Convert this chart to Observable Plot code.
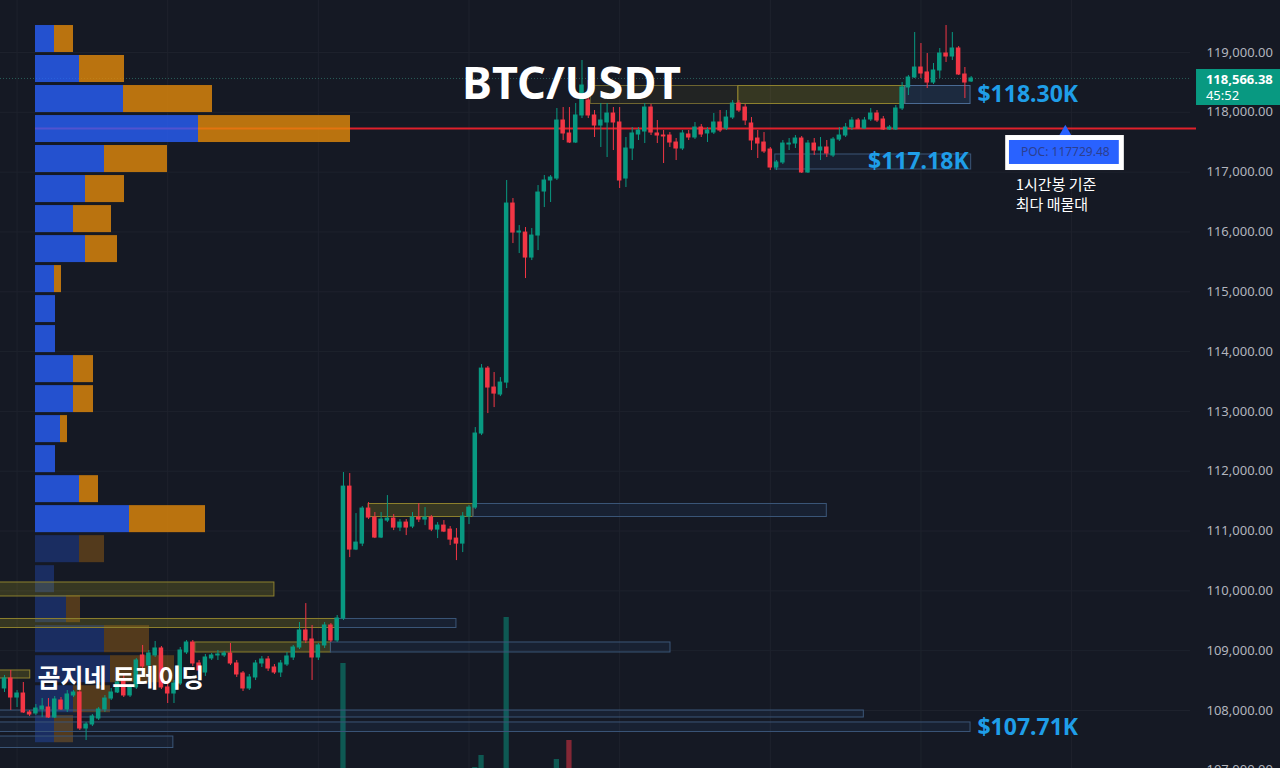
<!DOCTYPE html>
<html><head><meta charset="utf-8">
<script src="https://cdn.jsdelivr.net/npm/d3@7"></script>
<script src="https://cdn.jsdelivr.net/npm/@observablehq/plot@0.6"></script>
<style>
html,body{margin:0;padding:0;background:#151924;}
#chart{position:relative;width:1280px;height:768px;overflow:hidden;background:#151924;}
#chart > svg{position:absolute;left:0;top:0;}
</style></head><body><div id="chart"></div>
<script>
// ---------- data ----------
// hourly candles [open, high, low, close]
const candles = [
[108368,108585,108301,108535],[108535,108669,108000,108217],[108217,108334,108050,108284],[108284,108468,107950,107967],
[107967,108000,107900,107933],[107950,108100,107916,108033],[108017,108200,107883,108067],[108050,108200,107866,107883],
[107883,108234,107866,108184],[108167,108217,108000,108017],[108017,108334,107967,108268],[108251,108334,108217,108301],
[108301,108334,107666,107699],[107699,107799,107498,107766],[107766,107933,107732,107900],[107866,108050,107833,108017],
[108017,108251,107967,108200],[108200,108368,108167,108301],[108301,108535,108284,108468],[108502,108585,108217,108251],
[108251,108435,108217,108385],[108385,108870,108351,108836],[108920,109087,108619,108736],[108752,109003,108702,108953],
[108920,109154,108886,109037],[109037,109070,108351,108385],[108385,108435,108117,108284],[108284,108502,108117,108451],
[108451,109053,108418,109003],[108970,109170,108936,109137],[109137,109170,108736,108786],[108786,108836,108585,108669],
[108635,108936,108569,108886],[108870,108953,108836,108920],[108920,109003,108836,108936],[108920,108987,108886,108953],
[108953,109120,108752,108786],[108786,108836,108552,108602],[108619,108652,108318,108368],[108368,108602,108334,108552],
[108552,108836,108502,108786],[108786,108903,108719,108853],[108853,108903,108652,108702],[108719,108769,108602,108635],
[108635,108836,108552,108786],[108769,108970,108736,108903],[108886,109087,108836,109053],[109053,109471,109020,109338],
[109338,109787,109120,109170],[109187,109421,108502,108886],[108886,109120,108836,109087],[109087,109471,109037,109421],
[109421,109454,109137,109170],[109170,109588,109137,109538],[109538,111978,109504,111743],[111743,111961,110556,110690],
[110690,111292,110673,110807],[110790,111409,110740,111376],[111376,111476,111192,111225],[111225,111309,110874,110891],
[110891,111309,110874,111192],[111175,111593,111142,111208],[111208,111275,111008,111058],[111058,111192,110991,111142],
[111142,111192,110924,111058],[111075,111309,111041,111225],[111225,111459,111142,111192],[111192,111392,111091,111225],
[111225,111259,110991,111024],[111024,111142,110874,111091],[111091,111175,110974,110991],[111024,111075,110757,110857],
[110874,111041,110506,110790],[110790,111309,110640,111242],[111242,111426,111108,111392],[111392,112730,111359,112630],
[112630,113783,112596,113716],[113716,113750,112964,113399],[113399,113650,113064,113298],[113282,113566,113248,113482],
[113482,116860,113382,116475],[116475,116559,115806,115990],[115990,116107,115639,116007],[115990,116074,115221,115572],
[115572,116057,115522,115940],[115940,116776,115689,116659],[116676,116944,116408,116860],[116860,116944,116492,116910],
[116893,118064,116860,117863],[117863,118080,117529,117646],[117646,118080,117478,117495],[117495,118147,117478,117947],
[117947,118866,117896,118448],[118198,118532,117896,117947],[117947,118030,117579,117779],[117779,118147,117412,117863],
[117830,118147,117244,117980],[117980,118080,117361,117830],[117830,118080,116726,116860],[116893,117579,116743,117395],
[117395,117746,117194,117646],[117629,117746,117529,117696],[117679,118147,117478,118080],[118080,118131,117612,117662],
[117646,117863,117478,117612],[117612,117696,117144,117596],[117612,117662,117412,117495],[117495,117562,117194,117395],
[117395,117696,117361,117646],[117629,117696,117529,117579],[117579,117830,117545,117746],[117746,117796,117579,117629],
[117646,117746,117495,117696],[117662,117980,117629,117830],[117830,118030,117662,117696],[117729,118030,117696,117913],
[117913,118197,117880,118147],[118147,118197,117997,118030],[118080,118131,117779,117863],[117813,117913,117361,117529],
[117562,117696,117228,117478],[117495,117662,117311,117345],[117378,117412,117027,117077],[117077,117194,117027,117161],
[117161,117529,117127,117478],[117462,117562,117361,117478],[117478,117612,117395,117562],[117562,117596,116977,116994],
[116994,117529,116977,117478],[117478,117562,117278,117361],[117361,117579,117194,117412],[117412,117529,117244,117311],
[117278,117579,117244,117545],[117545,117746,117512,117612],[117612,117813,117579,117746],[117746,117913,117696,117863],
[117863,117896,117713,117729],[117729,117913,117713,117863],[117880,118064,117846,117980],[117980,118030,117830,117863],
[117880,117930,117696,117713],[117713,117779,117696,117746],[117713,118114,117696,118064],[118064,118498,118030,118415],
[118415,118616,118281,118582],[118582,119334,118565,118749],[118749,119150,118565,118649],[118666,118983,118398,118498],
[118498,118816,118465,118699],[118699,119067,118565,118983],[118983,119451,118833,118933],[118933,119334,118866,119067],
[119067,119100,118616,118632],[118632,118749,118231,118498],[118515,118599,118498,118566]
];
// visible volume bars (candle index, volume)
const volIndex = [54, 75, 76, 80, 88, 90];
const volValue = [2740, 660, 900, 3660, 820, 1200];
// price axis
const priceTicks = [107000,108000,109000,110000,111000,112000,113000,114000,115000,116000,117000,118000,119000];
const dayGridIndex = [2, 26, 50, 74, 98, 122, 146, 170];
// volume profile bins (edges, high to low) and buy/sell volume per bin
const vpEdges = [119476,118975,118473,117971,117470,116968,116466,115964,115463,114961,114460,113958,113456,112955,112453,111951,111450,110948,110446,109944,109443,108941,108439,107938,107436];
const vpUp   = [19,44,88,163,69,50,38,50,19,20,20,38,38,25,20,44,94,44,19,31,69,75,38,19];
const vpDown = [19,45,89,152,63,39,38,32,7,0,0,20,20,7,0,19,76,25,0,14,45,64,37,19];
const valueAreaRows = 17;
const pocPrice = 117729.48;
const lastPrice = 118566.38;
const countdown = "45:52";
// zones: t = y (supply, yellow), yd (faded yellow), b (blue extension)
const zones = [
  {t:"y",  x1:-2,    x2:43,    lo:109906, hi:110140},
  {t:"y",  x1:-2,    x2:53,    lo:109379, hi:109530},
  {t:"b",  x1:53,    x2:72,    lo:109379, hi:109530},
  {t:"y",  x1:30.4,  x2:52,    lo:108970, hi:109137},
  {t:"b",  x1:52,    x2:106.1, lo:108970, hi:109137},
  {t:"y",  x1:-2,    x2:4.1,   lo:108535, hi:108669},
  {t:"y",  x1:58,    x2:74.7,  lo:111235, hi:111452},
  {t:"b",  x1:74.7,  x2:131,   lo:111235, hi:111452},
  {t:"yd", x1:93.4,  x2:116.9, lo:118139, hi:118440},
  {t:"y",  x1:116.9, x2:143.5, lo:118139, hi:118440},
  {t:"bb", x1:143.5, x2:153.9, lo:118139, hi:118440},
  {t:"b",  x1:122.8, x2:154,   lo:117044, hi:117295},
  {t:"b",  x1:-2,    x2:136.9, lo:107883, hi:108000},
  {t:"b",  x1:-2,    x2:153.9, lo:107641, hi:107800},
  {t:"b",  x1:-2,    x2:26.9,  lo:107373, hi:107565}
];
const levelLabelsStart = [{i:155, p:118300, text:"$118.30K"}, {i:155, p:107710, text:"$107.71K"}];
const levelLabelsEnd = [{i:153.6, p:117180, text:"$117.18K"}];

// ---------- layout ----------
const W = 1280, H = 768;
const X_DOMAIN = [-0.637, 203.28];
const Y_DOMAIN = [107030.4, 119869.3];
const FONT = "'Noto Sans', 'Noto Sans CJK KR', sans-serif";
const KFONT = "'Noto Sans CJK KR', 'Noto Sans', sans-serif";
const UP = "#089981", DOWN = "#f23645";

const bars = candles.map((d, i) => ({i, o:d[0], h:d[1], l:d[2], c:d[3], up: d[3] >= d[0]}));
const vols = volIndex.map((i, k) => ({i, v: volValue[k], up: bars[i].up}));
const vpRows = vpUp.map((u, k) => ({hi: vpEdges[k], lo: vpEdges[k+1], up: u, down: vpDown[k], va: k < valueAreaRows}));

const base = {width: W, height: H, marginTop: 0, marginBottom: 0, marginLeft: 0, marginRight: 0};
const xS = {domain: X_DOMAIN, range: [0, W], axis: null};
const yS = {domain: Y_DOMAIN, range: [H, 0], axis: null};
const el = document.getElementById("chart");

// layer 1: background, grid, axis
el.appendChild(Plot.plot({
  ...base, marginRight: 90,
  x: xS, y: yS,
  style: {background: "#151924", color: "#b2b5be", fontFamily: FONT, fontSize: "13px"},
  marks: [
    Plot.ruleY(priceTicks, {stroke: "#1e222d", strokeWidth: 1}),
    Plot.ruleX(dayGridIndex, {stroke: "#1e222d", strokeWidth: 1}),
    Plot.ruleY([lastPrice], {stroke: "#2a5f5a", strokeWidth: 1, strokeDasharray: "1,2"}),
    Plot.axisY(priceTicks, {anchor: "right", tickSize: 0, tickPadding: 16, tickFormat: d3.format(",.2f"), fill: "#b2b5be", fontSize: 13, label: null})
  ]
}));

// layer 2: volume profile
el.appendChild(Plot.plot({
  ...base, marginLeft: 35, marginRight: 84,
  x: {domain: [0, 1161], axis: null}, y: yS,
  style: {background: "transparent"},
  marks: [
    Plot.ruleY([pocPrice], {stroke: "#e0212b", strokeWidth: 2}),
    Plot.rect(vpRows, {x1: () => 0, x2: "up", y1: "lo", y2: "hi", fill: "#2962ff", fillOpacity: d => d.va ? 0.78 : 0.28, insetTop: 1.5, insetBottom: 1.5}),
    Plot.rect(vpRows.filter(d => d.down > 0), {x1: "up", x2: d => d.up + d.down, y1: "lo", y2: "hi", fill: "#e3890a", fillOpacity: d => d.va ? 0.8 : 0.3, insetTop: 1.5, insetBottom: 1.5})
  ]
}));

// layer 3: volume histogram
el.appendChild(Plot.plot({
  ...base,
  x: xS, y: {domain: [0, 4000], range: [800, 600], axis: null},
  style: {background: "transparent"},
  marks: [
    Plot.rect(vols, {x1: d => d.i - 0.42, x2: d => d.i + 0.42, y1: () => 0, y2: "v", fill: d => d.up ? UP : DOWN, fillOpacity: 0.5})
  ]
}));

// layer 4: zones, candles, labels
const zFill = {y: "#c0b020", yd: "#9a8c20", b: "#3d6fb0", bb: "#3d6fb0"};
const zFillOp = {y: 0.2, yd: 0.1, b: 0.1, bb: 0.2};
const zStroke = {y: "#8d812e", yd: "#6e6530", b: "#3b5678", bb: "#4a6a93"};
el.appendChild(Plot.plot({
  ...base,
  x: xS, y: yS,
  style: {background: "transparent", fontFamily: FONT},
  marks: [
    Plot.rect(zones, {x1: "x1", x2: "x2", y1: "lo", y2: "hi", fill: d => zFill[d.t], fillOpacity: d => zFillOp[d.t], stroke: d => zStroke[d.t], strokeWidth: 1}),
    Plot.ruleX(bars, {x: "i", y1: "l", y2: "h", stroke: d => d.up ? UP : DOWN, strokeWidth: 1}),
    Plot.rect(bars, {x1: d => d.i - 0.36, x2: d => d.i + 0.36, y1: "o", y2: "c", fill: d => d.up ? UP : DOWN, insetTop: -0.5, insetBottom: -0.5}),
    // level labels
    Plot.text(levelLabelsStart, {x: "i", y: "p", text: "text", textAnchor: "start", fill: "#1f9ee8", fontSize: 23, fontWeight: "bold"}),
    Plot.text(levelLabelsEnd, {x: "i", y: "p", text: "text", textAnchor: "end", fill: "#1f9ee8", fontSize: 23, fontWeight: "bold"}),
    // POC callout
    Plot.dot([pocPrice], {x: () => 169.0, y: d => d, symbol: "triangle", r: 5, fill: "#2962ff", dy: 4}),
    Plot.rect([pocPrice], {x1: () => 159.5, x2: () => 178.4, y1: () => 117027, y2: () => 117612, fill: "white"}),
    Plot.rect([pocPrice], {x1: () => 160.1, x2: () => 177.6, y1: () => 117128, y2: () => 117529, fill: "#2962ff"}),
    Plot.text([pocPrice], {x: () => 169.0, y: () => 117328, text: d => "POC: " + d.toFixed(2), fill: "#2c3f8f", fontSize: 12}),
    Plot.text(["1시간봉 기준\n최다 매물대"], {x: () => 161.1, y: () => 116643, textAnchor: "start", fill: "white", fontSize: 15, lineHeight: 1.33, fontFamily: KFONT}),
    // last price label on the axis
    Plot.rect([lastPrice], {x1: () => 189.9, x2: () => 203.5, y1: () => 118114, y2: () => 118716, fill: "#089981"}),
    Plot.text([lastPrice], {x: () => 191.4, y: d => d, dy: 1, text: d => d3.format(",.2f")(d), textAnchor: "start", fill: "white", fontSize: 13, fontWeight: "bold"}),
    Plot.text([lastPrice], {x: () => 191.4, y: d => d, dy: 17, text: () => countdown, textAnchor: "start", fill: "white", fontSize: 13}),
    // title and watermark
    Plot.text(["BTC/USDT"], {frameAnchor: "top-left", dx: 571, dy: 84, textAnchor: "middle", lineAnchor: "middle", fill: "white", fontSize: 45, fontWeight: "bold"}),
    Plot.text(["곰지네 트레이딩"], {frameAnchor: "top-left", dx: 37, dy: 678, textAnchor: "start", lineAnchor: "middle", fill: "white", fontSize: 25, fontWeight: "bold", fontFamily: KFONT})
  ]
}));
</script></body></html>
